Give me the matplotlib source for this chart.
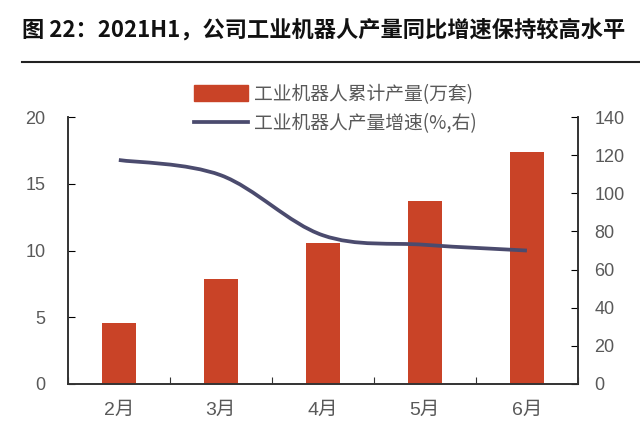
import numpy as np
import matplotlib.pyplot as plt
from matplotlib.path import Path
from matplotlib.patches import PathPatch
from matplotlib.lines import Line2D
from matplotlib.patches import Patch

plt.rcParams['font.family'] = ['Liberation Sans', 'Noto Sans CJK SC', 'DejaVu Sans']

# data
months = ["2月", "3月", "4月", "5月", "6月"]
output_cum = [4.6, 7.9, 10.6, 13.7, 17.4]      # 万套
output_growth = [117.5, 109.5, 78.0, 73.0, 70.0]  # %, right axis

bar_color = "#C94327"
line_color = "#4B4B6E"
text_color = "#595959"

fig = plt.figure(figsize=(6.4, 4.29), dpi=100)
ax = fig.add_axes([0.106, 0.105, 0.797, 0.622])
ax2 = ax.twinx()

x = np.arange(len(months))
ax.bar(x, output_cum, width=0.33, color=bar_color, zorder=2)
ax.set_xlim(-0.5, len(months) - 0.5)
ax.set_ylim(0, 20)
ax.set_yticks([0, 5, 10, 15, 20])
ax2.set_ylim(0, 140)
ax2.set_yticks(range(0, 141, 20))

# smooth line through the points (catmull-rom -> bezier)
pts = np.column_stack([x, output_growth]).astype(float)
verts = [tuple(pts[0])]
codes = [Path.MOVETO]
for i in range(len(pts) - 1):
    p0 = pts[i - 1] if i > 0 else pts[i]
    p1 = pts[i]
    p2 = pts[i + 1]
    p3 = pts[i + 2] if i + 2 < len(pts) else pts[i + 1]
    c1 = p1 + (p2 - p0) / 6.0
    c2 = p2 - (p3 - p1) / 6.0
    verts += [tuple(c1), tuple(c2), tuple(p2)]
    codes += [Path.CURVE4] * 3
ax2.add_patch(PathPatch(Path(verts, codes), facecolor="none",
                        edgecolor=line_color, lw=2.7, zorder=3))

# x ticks at category boundaries, labels at centres
ax.set_xticks(np.arange(-0.5, len(months), 1.0))
ax.set_xticklabels([])
ax.set_xticks(x, minor=True)
ax.set_xticklabels(months, minor=True)
ax.tick_params(axis="x", which="major", direction="in", length=5, color="#333333")
ax.tick_params(axis="x", which="minor", length=0, pad=13, labelsize=14, labelcolor=text_color)
ax.tick_params(axis="y", direction="in", length=5, labelsize=13, labelcolor=text_color, pad=16)
ax2.tick_params(axis="y", direction="in", length=5, labelsize=13, labelcolor=text_color, pad=12)

for a in (ax, ax2):
    a.spines["top"].set_visible(False)
    for s in ("left", "right", "bottom"):
        a.spines[s].set_color("#333333")
        a.spines[s].set_linewidth(1.2)

handles = [Patch(color=bar_color), Line2D([0], [0], color=line_color, lw=2.7)]
labels = ["工业机器人累计产量(万套)", "工业机器人产量增速(%,右)"]
fig.legend(handles, labels, loc="upper left", bbox_to_anchor=(0.303, 0.805),
           frameon=False, labelcolor=text_color,
           handlelength=2.9, handleheight=0.9, handletextpad=0.3,
           labelspacing=0.45, borderaxespad=0, borderpad=0,
           prop={"family": ["Noto Sans CJK SC"], "size": 13.5, "weight": "light"})

fig.text(0.034, 0.93, "图 22：2021H1，公司工业机器人产量同比增速保持较高水平",
         fontsize=16, fontweight="bold", color="#111111", va="center",
         family=["Noto Sans CJK SC", "DejaVu Sans"])
fig.add_artist(Line2D([0.034, 1.0], [0.855, 0.855], color="#222222", lw=1.5))

fig.savefig("out.png", dpi=100)
